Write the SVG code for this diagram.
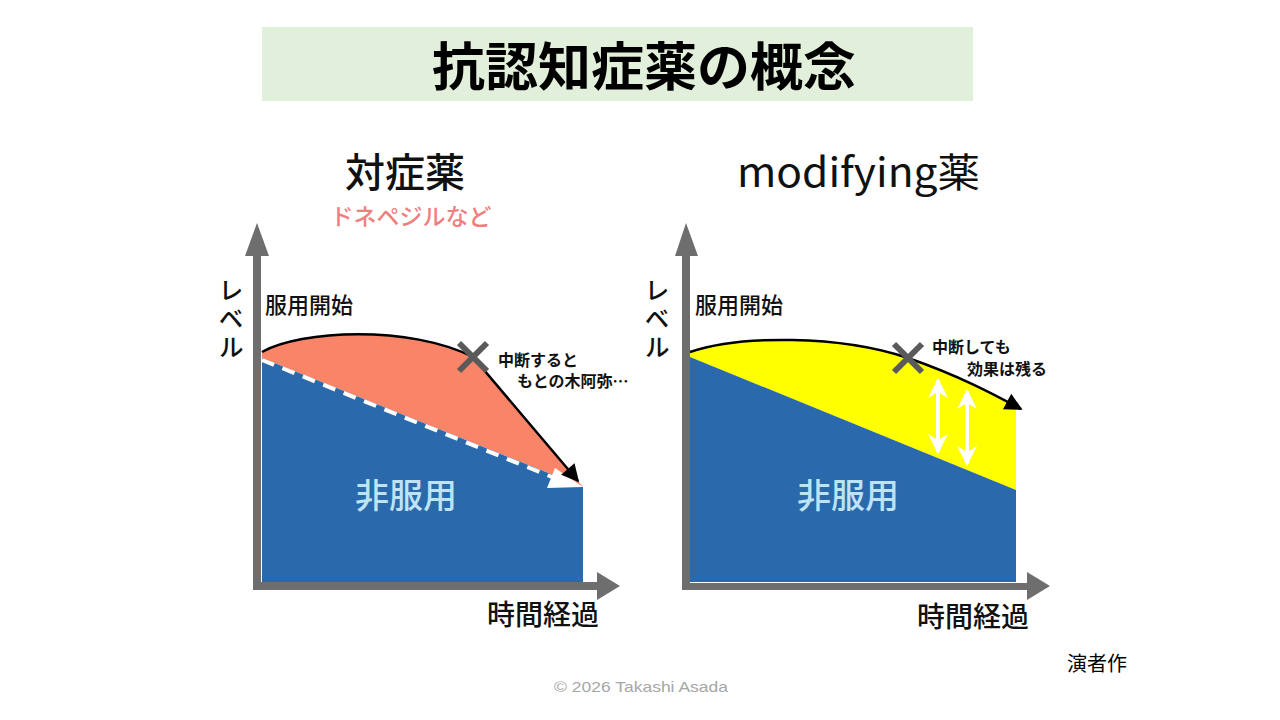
<svg xmlns="http://www.w3.org/2000/svg" width="1280" height="720" viewBox="0 0 1280 720">
<defs>
<style>
text{font-family:"Noto Sans CJK JP","Noto Sans",sans-serif;}
.ax{fill:#6E6E6E;}
.blue{fill:#2A69AC;}
.xm{stroke:#5A5A5A;stroke-width:6;stroke-linecap:butt;}
.lbl{font-size:16px;font-weight:bold;fill:#111;}
.non{font-size:34px;font-weight:500;fill:#BDE3F5;text-anchor:middle;}
.time{font-size:28px;font-weight:500;fill:#111;}
.start{font-size:22px;font-weight:500;fill:#111;}
.lvl{font-size:25px;font-weight:500;fill:#111;writing-mode:vertical-rl;letter-spacing:3px;}
</style>
<marker id="ab" viewBox="0 0 10 10" refX="9" refY="5" markerWidth="8" markerHeight="7" markerUnits="strokeWidth" orient="auto">
<path d="M0,0 L10,5 L0,10 Z" fill="#000"/>
</marker>
<marker id="aw" viewBox="0 0 10 10" refX="9" refY="5" markerWidth="5" markerHeight="5" markerUnits="strokeWidth" orient="auto-start-reverse">
<path d="M0,0 L10,5 L0,10 L3,5 Z" fill="#fff"/>
</marker>
</defs>
<rect width="1280" height="720" fill="#fff"/>

<g id="title">
<rect x="262" y="27" width="711" height="74" fill="#E2EFDA"/>
<text x="644" y="86" font-size="52" font-weight="bold" text-anchor="middle" fill="#000" textLength="424" lengthAdjust="spacingAndGlyphs">抗認知症薬の概念</text>
</g>

<g id="left-chart">
<text x="405" y="187" font-size="40" font-weight="500" text-anchor="middle" fill="#111">対症薬</text>
<text x="411" y="225" font-size="23" font-weight="500" text-anchor="middle" fill="#F07F80">ドネペジルなど</text>
<path d="M262,352 C300,330 410,325 473,357 L583,487 L262,358 Z" fill="#FA8468"/>
<path class="blue" d="M262,358 L583,487 L583,582 L262,582 Z"/>
<line x1="262" y1="360" x2="552" y2="477" stroke="#fff" stroke-width="4" stroke-dasharray="13 9"/>
<polygon points="583,487 547,488 555,468" fill="#fff"/>
<path d="M262,352 C300,330 410,325 473,357 L578,481" fill="none" stroke="#000" stroke-width="2.5" marker-end="url(#ab)"/>
<rect class="ax" x="253" y="250" width="8" height="340"/>
<polygon class="ax" points="245,256 257,223 269,256"/>
<rect class="ax" x="253" y="582" width="346" height="8"/>
<polygon class="ax" points="597,572 620,586 597,600"/>
<line class="xm" x1="459" y1="343" x2="487" y2="371"/>
<line class="xm" x1="487" y1="343" x2="459" y2="371"/>
<text class="lbl" x="498" y="366">中断すると</text>
<text class="lbl" x="517" y="387">もとの木阿弥…</text>
<text class="non" x="406" y="508">非服用</text>
<text class="time" x="487" y="625">時間経過</text>
<text class="start" x="265" y="313">服用開始</text>
<text class="lvl" x="231" y="278">レベル</text>
</g>

<g id="right-chart">
<text x="737" y="187" font-size="40" fill="#111" textLength="243" lengthAdjust="spacingAndGlyphs">modifying薬</text>
<path d="M690,352 C740,335 840,335 908,358 C960,375 990,395 1016,407 L1016,490 L690,357 Z" fill="#FFFF00"/>
<path class="blue" d="M690,357 L1016,490 L1016,582 L690,582 Z"/>
<path d="M690,352 C740,335 840,335 908,358 C960,376 995,395 1021,409" fill="none" stroke="#000" stroke-width="2.5" marker-end="url(#ab)"/>
<line x1="938" y1="380" x2="938" y2="452" stroke="#fff" stroke-width="4" marker-start="url(#aw)" marker-end="url(#aw)"/>
<line x1="967" y1="391" x2="967" y2="464" stroke="#fff" stroke-width="4" marker-start="url(#aw)" marker-end="url(#aw)"/>
<rect class="ax" x="682" y="250" width="8" height="340"/>
<polygon class="ax" points="675,256 686,223 698,256"/>
<rect class="ax" x="682" y="583" width="346" height="7"/>
<polygon class="ax" points="1027,572 1050,586 1027,600"/>
<line class="xm" x1="894" y1="344" x2="922" y2="372"/>
<line class="xm" x1="922" y1="344" x2="894" y2="372"/>
<text class="lbl" x="932" y="353">中断しても</text>
<text class="lbl" x="967" y="375">効果は残る</text>
<text class="non" x="848" y="508">非服用</text>
<text class="time" x="917" y="627">時間経過</text>
<text class="start" x="695" y="313">服用開始</text>
<text class="lvl" x="657" y="278">レベル</text>
</g>

<g id="footer">
<text x="1067" y="671" font-size="20" fill="#000">演者作</text>
<text x="641" y="692" font-size="15" text-anchor="middle" fill="#A6A6A6" textLength="174" lengthAdjust="spacingAndGlyphs" style="font-family:'Liberation Sans',sans-serif">© 2026 Takashi Asada</text>
</g>
</svg>
